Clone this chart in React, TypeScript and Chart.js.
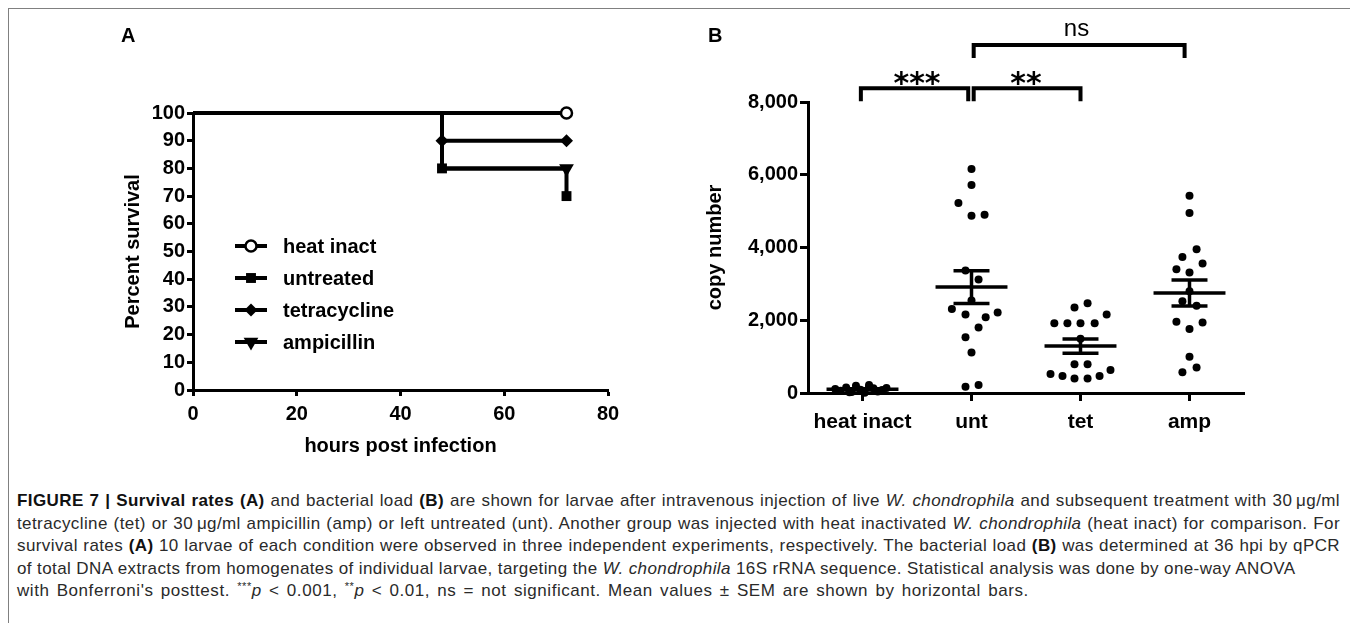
import React, { useEffect, useRef } from "react";
import { Chart, registerables, PointElement } from "chart.js";

Chart.register(...registerables);

const FONT = '"Liberation Sans", Arial, Helvetica, sans-serif';

// ---------- Panel A: survival ----------
const survivalHours = [0, 48, 72];
const survivalLabels = ["heat inact", "untreated", "tetracycline", "ampicillin"];
const heatInactSurvival = [100, 100, 100];
const untreatedSurvival = [100, 80, 70];
const tetracyclineSurvival = [100, 90, 90];
const ampicillinSurvival = [100, 80, 80];
const survivalXTicks = [0, 20, 40, 60, 80];
const survivalYTicks = [0, 10, 20, 30, 40, 50, 60, 70, 80, 90, 100];

// ---------- Panel B: bacterial load ----------
const loadGroups = ["heat inact", "unt", "tet", "amp"];
const heatInactLoad = [110, 60, 150, 30, 200, 90, 10, 170, 130, 40, 220, 80, 20, 140, 60];
const heatInactJitter = [-0.25, -0.2, -0.15, -0.1, -0.06, -0.02, 0.02, 0.06, 0.1, 0.14, 0.06, 0.18, -0.12, 0.22, 0.0];
const untLoad = [6160, 5720, 5220, 4870, 4900, 3370, 3120, 2540, 2310, 2160, 2210, 2080, 1800, 1530, 1110, 170, 220];
const untJitter = [0, 0, -0.12, 0, 0.12, -0.055, 0.065, 0, -0.18, -0.055, 0.24, 0.13, 0.065, -0.055, 0, -0.055, 0.065];
const tetLoad = [2350, 2470, 2160, 1920, 1920, 1920, 1920, 1490, 790, 790, 520, 470, 400, 400, 470, 630];
const tetJitter = [-0.055, 0.065, 0.24, -0.24, -0.12, 0, 0.13, 0, -0.055, 0.065, -0.275, -0.165, -0.055, 0.065, 0.175, 0.275];
const ampLoad = [5420, 4950, 3950, 3740, 3560, 3400, 3310, 2800, 2520, 2400, 1960, 1940, 1760, 1000, 570, 700];
const ampJitter = [0, 0, 0.065, -0.065, 0.12, -0.12, 0, 0, -0.065, 0.065, -0.12, 0.12, 0, 0, -0.065, 0.065];
const loadYTicks = [0, 2000, 4000, 6000, 8000];

const bracketLabels = ["***", "**", "ns"];
const bracketFrom = ["heat inact", "unt", "unt"];
const bracketTo = ["unt", "tet", "amp"];
const bracketLevel = [8380, 8380, 9570];
const bracketLeg = 360;

function meanOf(a: number[]) {
  return a.reduce((s, v) => s + v, 0) / a.length;
}
function semOf(a: number[]) {
  const m = meanOf(a);
  const v = a.reduce((s, x) => s + (x - m) * (x - m), 0) / (a.length - 1);
  return Math.sqrt(v / a.length);
}

function SurvivalChart() {
  const ref = useRef<HTMLCanvasElement>(null);
  useEffect(() => {
    const series = [
      { label: survivalLabels[0], values: heatInactSurvival, style: "circle", radius: [0, 0, 5.5], fill: "#fff", rotation: 0, bw: 2.5 },
      { label: survivalLabels[1], values: untreatedSurvival, style: "rect", radius: [0, 7, 7], fill: "#000", rotation: 0, bw: 0 },
      { label: survivalLabels[2], values: tetracyclineSurvival, style: "rectRot", radius: [0, 6.5, 6.5], fill: "#000", rotation: 0, bw: 0 },
      { label: survivalLabels[3], values: ampicillinSurvival, style: "triangle", radius: [0, 0, 8.5], fill: "#000", rotation: 180, bw: 0 },
    ];
    const legendPlugin = {
      id: "survivalLegend",
      afterDatasetsDraw(chart: any) {
        const { ctx, chartArea } = chart;
        ctx.save();
        series.forEach((s, i) => {
          const y = chartArea.top + 133 + i * 32;
          const x0 = chartArea.left + 42;
          ctx.strokeStyle = "#000";
          ctx.lineWidth = 4;
          ctx.beginPath();
          ctx.moveTo(x0, y);
          ctx.lineTo(x0 + 32, y);
          ctx.stroke();
          const p: any = new (PointElement as any)({
            x: x0 + 16,
            y,
            options: {
              pointStyle: s.style,
              radius: Math.max(...s.radius),
              rotation: s.rotation,
              backgroundColor: s.fill,
              borderColor: "#000",
              borderWidth: s.bw,
            },
          });
          p.draw(ctx, chartArea);
          ctx.fillStyle = "#000";
          ctx.font = `bold 20px ${FONT}`;
          ctx.textBaseline = "middle";
          ctx.textAlign = "left";
          ctx.fillText(s.label, x0 + 48, y + 1);
        });
        ctx.restore();
      },
    };
    const tickFont = { family: FONT, size: 20, weight: "bold" as const };
    const chart = new Chart(ref.current!, {
      type: "line",
      data: {
        datasets: series.map((s) => ({
          label: s.label,
          data: survivalHours.map((h, i) => ({ x: h, y: s.values[i] })),
          stepped: "before" as const,
          borderColor: "#000",
          borderWidth: 4,
          borderCapStyle: "butt" as const,
          borderJoinStyle: "miter" as const,
          pointStyle: s.style as any,
          pointRadius: s.radius,
          pointRotation: s.rotation,
          pointBackgroundColor: s.fill,
          pointBorderColor: "#000",
          pointBorderWidth: s.bw,
          clip: false as any,
          fill: false,
          tension: 0,
        })),
      },
      options: {
        animation: false,
        responsive: false,
        events: [],
        layout: { padding: { left: 104, right: 71, top: 104, bottom: 21 } },
        plugins: { legend: { display: false }, tooltip: { enabled: false } },
        scales: {
          x: {
            type: "linear",
            min: 0,
            max: 80,
            afterBuildTicks: (s: any) => {
              s.ticks = survivalXTicks.map((v) => ({ value: v }));
            },
            afterFit: (s: any) => {
              s.height = 68;
            },
            ticks: { font: tickFont, color: "#000", padding: 6, maxRotation: 0, autoSkip: false },
            grid: { drawOnChartArea: false, drawTicks: true, tickLength: 6, tickWidth: 3, tickColor: "#000" },
            border: { display: true, color: "#000", width: 3 },
            title: { display: true, text: "hours post infection", color: "#000", font: { family: FONT, size: 20, weight: "bold" }, padding: 0 },
          },
          y: {
            type: "linear",
            min: 0,
            max: 100,
            afterBuildTicks: (s: any) => {
              s.ticks = survivalYTicks.map((v) => ({ value: v }));
            },
            afterFit: (s: any) => {
              s.width = 80;
            },
            ticks: { font: tickFont, color: "#000", padding: 2, autoSkip: false },
            grid: { drawOnChartArea: false, drawTicks: true, tickLength: 6, tickWidth: 3, tickColor: "#000" },
            border: { display: true, color: "#000", width: 3 },
            title: { display: true, text: "Percent survival", color: "#000", font: { family: FONT, size: 20, weight: "bold" }, padding: { top: 8, bottom: 0 } },
          },
        },
      } as any,
      plugins: [legendPlugin],
    });
    return () => chart.destroy();
  }, []);
  return <canvas ref={ref} width={670} height={470} style={{ position: "absolute", left: 0, top: 0, width: 670, height: 470 }} />;
}

function LoadChart() {
  const ref = useRef<HTMLCanvasElement>(null);
  useEffect(() => {
    const groups = [
      { values: heatInactLoad, jitter: heatInactJitter },
      { values: untLoad, jitter: untJitter },
      { values: tetLoad, jitter: tetJitter },
      { values: ampLoad, jitter: ampJitter },
    ];
    const lineDs = (data: { x: number; y: number }[], width: number) => ({
      type: "line" as const,
      data,
      showLine: true,
      borderColor: "#000",
      borderWidth: width,
      borderCapStyle: "butt" as const,
      borderJoinStyle: "miter" as const,
      pointRadius: 0,
      fill: false,
      tension: 0,
      clip: false as any,
    });
    const datasets: any[] = [];
    groups.forEach((g, gi) => {
      const cx = gi + 1;
      const m = meanOf(g.values);
      const s = semOf(g.values);
      datasets.push(lineDs([{ x: cx - 0.33, y: m }, { x: cx + 0.33, y: m }], 3.5));
      datasets.push(lineDs([{ x: cx - 0.165, y: m + s }, { x: cx + 0.165, y: m + s }], 3.5));
      datasets.push(lineDs([{ x: cx - 0.165, y: m - s }, { x: cx + 0.165, y: m - s }], 3.5));
      datasets.push(lineDs([{ x: cx, y: m - s }, { x: cx, y: m + s }], 3.5));
    });
    groups.forEach((g, gi) => {
      datasets.push({
        type: "line" as const,
        data: g.values.map((v, i) => ({ x: gi + 1 + g.jitter[i], y: v })),
        showLine: false,
        pointRadius: 4,
        pointStyle: "circle",
        pointBackgroundColor: "#000",
        pointBorderWidth: 0,
        clip: false as any,
      });
    });
    bracketLabels.forEach((_, i) => {
      const a = loadGroups.indexOf(bracketFrom[i]) + 1 + (i === 0 ? -0.015 : 0.02);
      const b = loadGroups.indexOf(bracketTo[i]) + 1 + (i === 0 ? -0.03 : i === 2 ? -0.045 : 0);
      const top = bracketLevel[i];
      datasets.push(
        lineDs(
          [
            { x: a, y: top - bracketLeg },
            { x: a, y: top },
            { x: b, y: top },
            { x: b, y: top - bracketLeg },
          ],
          4
        )
      );
    });
    const bracketText = {
      id: "bracketText",
      afterDatasetsDraw(chart: any) {
        const { ctx } = chart;
        const { x, y } = chart.scales;
        ctx.save();
        ctx.fillStyle = "#000";
        ctx.textAlign = "center";
        ctx.textBaseline = "alphabetic";
        bracketLabels.forEach((lab, i) => {
          const a = loadGroups.indexOf(bracketFrom[i]) + 1;
          const b = loadGroups.indexOf(bracketTo[i]) + 1;
          const px = x.getPixelForValue((a + b) / 2);
          const py = y.getPixelForValue(bracketLevel[i]);
          if (lab === "ns") {
            ctx.font = `24px ${FONT}`;
            ctx.fillText(lab, px - 4, py - 9);
          } else {
            ctx.font = `bold 30px "DejaVu Sans", sans-serif`;
            ctx.fillText(lab, px, py + 5);
          }
        });
        ctx.restore();
      },
    };
    const tickFont = { family: FONT, size: 20, weight: "bold" as const };
    const chart = new Chart(ref.current!, {
      type: "line",
      data: { datasets },
      options: {
        animation: false,
        responsive: false,
        events: [],
        layout: { padding: { left: 18, right: 108, top: 93, bottom: 36 } },
        plugins: { legend: { display: false }, tooltip: { enabled: false } },
        scales: {
          x: {
            type: "linear",
            min: 0.5,
            max: 4.5,
            afterBuildTicks: (s: any) => {
              s.ticks = loadGroups.map((_, i) => ({ value: i + 1 }));
            },
            afterFit: (s: any) => {
              s.height = 50;
            },
            ticks: {
              font: { family: FONT, size: 21, weight: "bold" },
              color: "#000",
              padding: 9,
              maxRotation: 0,
              autoSkip: false,
              callback: (v: any) => loadGroups[Math.round(Number(v)) - 1],
            },
            grid: { drawOnChartArea: false, drawTicks: true, tickLength: 8, tickWidth: 3, tickColor: "#000" },
            border: { display: true, color: "#000", width: 3 },
          },
          y: {
            type: "linear",
            min: 0,
            max: 8000,
            afterBuildTicks: (s: any) => {
              s.ticks = loadYTicks.map((v) => ({ value: v }));
            },
            afterFit: (s: any) => {
              s.width = 110;
            },
            ticks: {
              font: tickFont,
              color: "#000",
              padding: 2,
              autoSkip: false,
              callback: (v: any) => Number(v).toLocaleString("en-US"),
            },
            grid: { drawOnChartArea: false, drawTicks: true, tickLength: 8, tickWidth: 3, tickColor: "#000" },
            border: { display: true, color: "#000", width: 3 },
            title: { display: true, text: "copy number", color: "#000", font: { family: FONT, size: 20, weight: "bold" }, padding: { top: 5, bottom: 0 } },
          },
        },
      } as any,
      plugins: [bracketText],
    });
    return () => chart.destroy();
  }, []);
  return <canvas ref={ref} width={672} height={470} style={{ position: "absolute", left: 671, top: 0, width: 672, height: 470 }} />;
}

function Caption() {
  const full: React.CSSProperties = {
    whiteSpace: "normal",
    height: 22.5,
    lineHeight: "22.5px",
    width: 1323,
    textAlign: "justify",
    textAlignLast: "justify",
  };
  const line: React.CSSProperties = { whiteSpace: "nowrap", height: 22.5, lineHeight: "22.5px" };
  const b: React.CSSProperties = { fontWeight: "bold", color: "#111" };
  const sup: React.CSSProperties = { fontSize: "0.65em", lineHeight: 0, verticalAlign: "0.55em" };
  return (
    <div style={{ position: "absolute", left: 8, top: 481, font: `17px ${FONT}`, letterSpacing: "0.4px", color: "#2a2a2a" }}>
      <div style={full}>
        <span style={b}>FIGURE 7 | Survival rates (A)</span> and bacterial load <span style={b}>(B)</span> are shown for larvae after intravenous injection of live <i>W. chondrophila</i> and subsequent treatment with 30{"\u2009"}μg/ml
      </div>
      <div style={full}>
        tetracycline (tet) or 30{"\u2009"}μg/ml ampicillin (amp) or left untreated (unt). Another group was injected with heat inactivated <i>W. chondrophila</i> (heat inact) for comparison. For
      </div>
      <div style={full}>
        survival rates <span style={b}>(A)</span> 10 larvae of each condition were observed in three independent experiments, respectively. The bacterial load <span style={b}>(B)</span> was determined at 36 hpi by qPCR
      </div>
      <div style={line}>
        of total DNA extracts from homogenates of individual larvae, targeting the <i>W. chondrophila</i> 16S rRNA sequence. Statistical analysis was done by one-way ANOVA
      </div>
      <div style={{ ...line, wordSpacing: "2px", letterSpacing: "0.55px" }}>
        with Bonferroni's posttest. <span style={sup}>***</span>
        <i>p</i> &lt; 0.001, <span style={sup}>**</span>
        <i>p</i> &lt; 0.01, ns = not significant. Mean values ± SEM are shown by horizontal bars.
      </div>
    </div>
  );
}

export default function App() {
  useEffect(() => {
    document.documentElement.style.overflow = "hidden";
    document.body.style.overflow = "hidden";
  }, []);
  return (
    <div style={{ position: "relative", width: 1345, height: 640, border: "1px solid #808080", fontFamily: FONT, background: "#fff" }}>
      <SurvivalChart />
      <LoadChart />
      <div style={{ position: "absolute", left: 112, top: 16, font: `bold 20px ${FONT}`, lineHeight: "20px", color: "#000" }}>A</div>
      <div style={{ position: "absolute", left: 699, top: 16, font: `bold 20px ${FONT}`, lineHeight: "20px", color: "#000" }}>B</div>
      <Caption />
    </div>
  );
}
